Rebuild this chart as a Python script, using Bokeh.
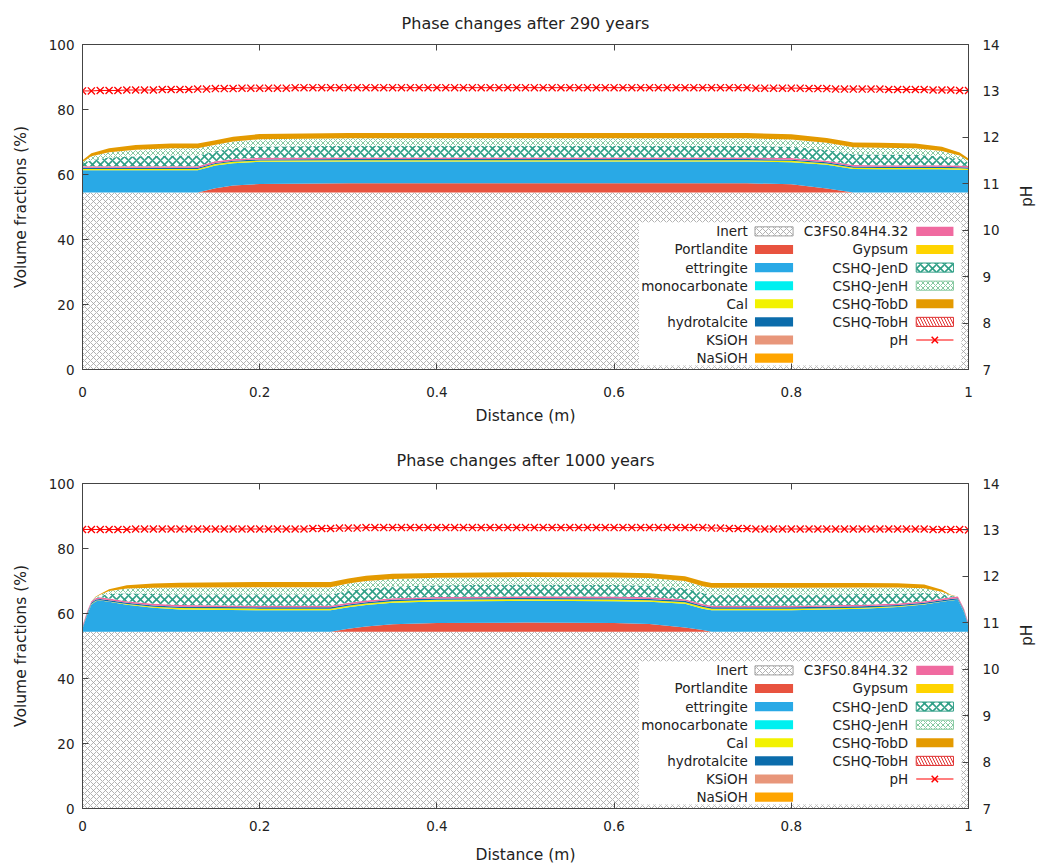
import math
from bokeh.plotting import figure
from bokeh.models import ColumnDataSource, Range1d, LinearAxis, FixedTicker, NumeralTickFormatter
from bokeh.layouts import column
from bokeh.transform import stack
from bokeh.embed import file_html
from bokeh.resources import INLINE
from bokeh.core.properties import value

FONT = "DejaVu Sans"
TXT = "#222222"

# ---------------- data ----------------
names = ["Inert", "Portlandite", "ettringite", "monocarbonate", "Cal", "hydrotalcite",
         "KSiOH", "NaSiOH", "C3FS0.84H4.32", "Gypsum", "CSHQ-JenD", "CSHQ-JenH",
         "CSHQ-TobD", "CSHQ-TobH"]

x_ticks = [0, 0.2, 0.4, 0.6, 0.8, 1.0]
y_ticks = [0, 20, 40, 60, 80, 100]
ph_ticks = [7, 8, 9, 10, 11, 12, 13, 14]

# --- 290 years ---
x_290 = [0.00, 0.01, 0.03, 0.06, 0.10, 0.13, 0.15, 0.17, 0.20, 0.30, 0.40, 0.50,
         0.60, 0.70, 0.75, 0.80, 0.84, 0.87, 0.90, 0.94, 0.97, 0.99, 1.00]
inert_290 = [54.5, 54.5, 54.5, 54.5, 54.5, 54.5, 54.5, 54.5, 54.5, 54.5, 54.5, 54.5,
             54.5, 54.5, 54.5, 54.5, 54.5, 54.5, 54.5, 54.5, 54.5, 54.5, 54.5]
portlandite_290 = [0, 0, 0, 0, 0, 0, 1.3, 2.1, 2.6, 2.8, 2.8, 2.8,
                   2.8, 2.8, 2.8, 2.5, 1.2, 0, 0, 0, 0, 0, 0]
ettringite_290 = [6.8, 6.8, 6.8, 6.8, 6.8, 6.8, 7.0, 6.9, 6.8, 6.7, 6.7, 6.7,
                  6.7, 6.7, 6.7, 6.8, 7.3, 7.2, 7.1, 7.1, 7.1, 7.0, 6.9]
monocarbonate_290 = [0, 0, 0, 0, 0, 0, 0, 0, 0, 0, 0, 0, 0, 0, 0, 0, 0, 0, 0, 0, 0, 0, 0]
cal_290 = [0.4, 0.4, 0.4, 0.4, 0.4, 0.4, 0.4, 0.4, 0.4, 0.4, 0.4, 0.4,
           0.4, 0.4, 0.4, 0.4, 0.4, 0.4, 0.4, 0.4, 0.4, 0.4, 0.4]
hydrotalcite_290 = [0.35, 0.35, 0.35, 0.35, 0.35, 0.35, 0.35, 0.35, 0.35, 0.35, 0.35, 0.35,
                    0.35, 0.35, 0.35, 0.35, 0.35, 0.35, 0.35, 0.35, 0.35, 0.35, 0.35]
ksioh_290 = [0, 0, 0, 0, 0, 0, 0, 0, 0, 0, 0, 0, 0, 0, 0, 0, 0, 0, 0, 0, 0, 0, 0]
nasioh_290 = [0, 0, 0, 0, 0, 0, 0, 0, 0, 0, 0, 0, 0, 0, 0, 0, 0, 0, 0, 0, 0, 0, 0]
c3fs_290 = [0.5, 0.5, 0.5, 0.5, 0.5, 0.5, 0.5, 0.5, 0.5, 0.5, 0.5, 0.5,
            0.5, 0.5, 0.5, 0.5, 0.5, 0.5, 0.5, 0.5, 0.5, 0.5, 0.5]
gypsum_290 = [0, 0, 0, 0, 0, 0, 0, 0, 0, 0, 0, 0, 0, 0, 0, 0, 0, 0, 0, 0, 0, 0, 0]
jend_290 = [0.8, 1.9, 2.7, 3.1, 3.3, 3.3, 3.1, 3.3, 3.5, 3.6, 3.6, 3.6,
            3.6, 3.6, 3.6, 3.5, 3.4, 3.3, 3.3, 3.2, 2.8, 2.0, 1.0]
jenh_290 = [0.5, 1.2, 1.6, 2.0, 2.2, 2.2, 2.0, 2.1, 2.2, 2.3, 2.3, 2.3,
            2.3, 2.3, 2.3, 2.2, 2.1, 2.1, 2.1, 2.0, 1.6, 1.1, 0.6]
tobd_290 = [0.5, 0.9, 1.2, 1.4, 1.5, 1.5, 1.4, 1.5, 1.6, 1.6, 1.6, 1.6,
            1.6, 1.6, 1.6, 1.6, 1.5, 1.5, 1.5, 1.5, 1.3, 0.9, 0.7]
tobh_290 = [0, 0, 0, 0, 0, 0, 0, 0, 0, 0, 0, 0, 0, 0, 0, 0, 0, 0, 0, 0, 0, 0, 0]

# --- 1000 years ---
x_1000 = [0.000, 0.005, 0.010, 0.015, 0.020, 0.030, 0.050, 0.080, 0.110, 0.200, 0.280,
          0.300, 0.320, 0.350, 0.400, 0.500, 0.600, 0.640, 0.680, 0.700, 0.710, 0.720,
          0.800, 0.880, 0.920, 0.950, 0.970, 0.980, 0.988, 0.995, 1.000]
inert_1000 = [54.4, 54.4, 54.4, 54.4, 54.4, 54.4, 54.4, 54.4, 54.4, 54.4, 54.4,
              54.4, 54.4, 54.4, 54.4, 54.4, 54.4, 54.4, 54.4, 54.4, 54.4, 54.4,
              54.4, 54.4, 54.4, 54.4, 54.4, 54.4, 54.4, 54.4, 54.4]
portlandite_1000 = [0, 0, 0, 0, 0, 0, 0, 0, 0, 0, 0,
                    0.9, 1.6, 2.3, 2.7, 2.8, 2.7, 2.4, 1.3, 0.5, 0, 0,
                    0, 0, 0, 0, 0, 0, 0, 0, 0]
ettringite_1000 = [0.8, 5.1, 8.4, 9.4, 9.6, 9.2, 8.3, 7.4, 6.8, 6.6, 6.6,
                   6.6, 6.6, 6.6, 6.6, 6.7, 6.7, 6.8, 7.3, 6.6, 6.6, 6.6,
                   6.6, 7.1, 7.6, 8.4, 9.2, 9.6, 9.8, 6.1, 1.6]
monocarbonate_1000 = [0, 0, 0, 0, 0, 0, 0, 0, 0, 0, 0, 0, 0, 0, 0, 0,
                      0, 0, 0, 0, 0, 0, 0, 0, 0, 0, 0, 0, 0, 0, 0]
cal_1000 = [0.1, 0.1, 0.1, 0.1, 0.1, 0.1, 0.2, 0.3, 0.5, 0.5, 0.5,
            0.5, 0.5, 0.5, 0.5, 0.5, 0.5, 0.5, 0.5, 0.5, 0.5, 0.5,
            0.5, 0.3, 0.2, 0.1, 0.1, 0.1, 0.1, 0.1, 0.1]
hydrotalcite_1000 = [0.4, 0.4, 0.4, 0.4, 0.4, 0.4, 0.4, 0.4, 0.4, 0.4, 0.4,
                     0.4, 0.4, 0.4, 0.4, 0.4, 0.4, 0.4, 0.4, 0.4, 0.4, 0.4,
                     0.4, 0.4, 0.4, 0.4, 0.4, 0.4, 0.4, 0.4, 0.4]
ksioh_1000 = [0, 0, 0, 0, 0, 0, 0, 0, 0, 0, 0, 0, 0, 0, 0, 0,
              0, 0, 0, 0, 0, 0, 0, 0, 0, 0, 0, 0, 0, 0, 0]
nasioh_1000 = [0, 0, 0, 0, 0, 0, 0, 0, 0, 0, 0, 0, 0, 0, 0, 0,
               0, 0, 0, 0, 0, 0, 0, 0, 0, 0, 0, 0, 0, 0, 0]
c3fs_1000 = [0.5, 0.5, 0.5, 0.5, 0.5, 0.5, 0.5, 0.5, 0.5, 0.5, 0.5,
             0.5, 0.5, 0.5, 0.5, 0.5, 0.5, 0.5, 0.5, 0.5, 0.5, 0.5,
             0.5, 0.5, 0.5, 0.5, 0.5, 0.5, 0.5, 0.5, 0.5]
gypsum_1000 = [0, 0, 0, 0, 0, 0, 0, 0, 0, 0, 0, 0, 0, 0, 0, 0,
               0, 0, 0, 0, 0, 0, 0, 0, 0, 0, 0, 0, 0, 0, 0]
jend_1000 = [0, 0, 0, 0.2, 0.5, 1.4, 2.4, 3.0, 3.3, 3.5, 3.5,
             3.6, 3.7, 3.6, 3.6, 3.6, 3.6, 3.6, 3.4, 3.4, 3.4, 3.4,
             3.4, 3.3, 3.0, 2.5, 1.3, 0.4, 0, 0, 0]
jenh_1000 = [0, 0, 0, 0.1, 0.3, 0.9, 1.5, 1.9, 2.1, 2.2, 2.2,
             2.3, 2.3, 2.3, 2.3, 2.3, 2.3, 2.3, 2.2, 2.1, 2.1, 2.1,
             2.1, 2.0, 1.9, 1.5, 0.8, 0.2, 0, 0, 0]
tobd_1000 = [0, 0, 0, 0.1, 0.2, 0.6, 1.0, 1.3, 1.5, 1.6, 1.6,
             1.6, 1.6, 1.6, 1.5, 1.5, 1.5, 1.5, 1.5, 1.5, 1.5, 1.5,
             1.5, 1.4, 1.3, 1.1, 0.6, 0.2, 0, 0, 0]
tobh_1000 = [0, 0, 0, 0, 0, 0, 0, 0, 0, 0, 0, 0, 0, 0, 0, 0,
             0, 0, 0, 0, 0, 0, 0, 0, 0, 0, 0, 0, 0, 0, 0]

# pH profiles (right axis)
ph_x = [0.00, 0.01, 0.02, 0.03, 0.04, 0.05, 0.06, 0.07, 0.08, 0.09,
        0.10, 0.11, 0.12, 0.13, 0.14, 0.15, 0.16, 0.17, 0.18, 0.19,
        0.20, 0.21, 0.22, 0.23, 0.24, 0.25, 0.26, 0.27, 0.28, 0.29,
        0.30, 0.31, 0.32, 0.33, 0.34, 0.35, 0.36, 0.37, 0.38, 0.39,
        0.40, 0.41, 0.42, 0.43, 0.44, 0.45, 0.46, 0.47, 0.48, 0.49,
        0.50, 0.51, 0.52, 0.53, 0.54, 0.55, 0.56, 0.57, 0.58, 0.59,
        0.60, 0.61, 0.62, 0.63, 0.64, 0.65, 0.66, 0.67, 0.68, 0.69,
        0.70, 0.71, 0.72, 0.73, 0.74, 0.75, 0.76, 0.77, 0.78, 0.79,
        0.80, 0.81, 0.82, 0.83, 0.84, 0.85, 0.86, 0.87, 0.88, 0.89,
        0.90, 0.91, 0.92, 0.93, 0.94, 0.95, 0.96, 0.97, 0.98, 0.99, 1.00]
ph_290 = [13.00, 13.00, 13.01, 13.01, 13.01, 13.02, 13.02, 13.02, 13.02, 13.03,
          13.03, 13.03, 13.03, 13.04, 13.04, 13.05, 13.05, 13.05, 13.06, 13.06,
          13.06, 13.06, 13.06, 13.06, 13.07, 13.07, 13.07, 13.07, 13.07, 13.07,
          13.07, 13.07, 13.07, 13.07, 13.07, 13.07, 13.07, 13.07, 13.07, 13.07,
          13.07, 13.07, 13.07, 13.07, 13.07, 13.07, 13.07, 13.07, 13.07, 13.07,
          13.07, 13.07, 13.07, 13.07, 13.07, 13.07, 13.07, 13.07, 13.07, 13.07,
          13.07, 13.07, 13.07, 13.07, 13.07, 13.07, 13.07, 13.07, 13.07, 13.07,
          13.07, 13.07, 13.07, 13.07, 13.07, 13.07, 13.06, 13.06, 13.06, 13.06,
          13.06, 13.06, 13.05, 13.05, 13.05, 13.04, 13.04, 13.04, 13.04, 13.04,
          13.04, 13.03, 13.03, 13.03, 13.03, 13.03, 13.02, 13.02, 13.02, 13.01, 13.01]
ph_1000 = [13.01, 13.01, 13.01, 13.01, 13.01, 13.01, 13.02, 13.02, 13.02, 13.02,
           13.02, 13.02, 13.02, 13.02, 13.02, 13.02, 13.02, 13.02, 13.02, 13.02,
           13.02, 13.02, 13.02, 13.02, 13.02, 13.02, 13.03, 13.03, 13.03, 13.04,
           13.04, 13.04, 13.05, 13.05, 13.05, 13.05, 13.05, 13.05, 13.05, 13.05,
           13.05, 13.05, 13.05, 13.05, 13.05, 13.05, 13.05, 13.05, 13.05, 13.05,
           13.05, 13.05, 13.05, 13.05, 13.05, 13.05, 13.05, 13.05, 13.05, 13.05,
           13.05, 13.05, 13.05, 13.05, 13.05, 13.05, 13.05, 13.05, 13.05, 13.05,
           13.05, 13.04, 13.04, 13.03, 13.03, 13.03, 13.02, 13.02, 13.02, 13.02,
           13.02, 13.02, 13.02, 13.02, 13.02, 13.02, 13.02, 13.02, 13.02, 13.02,
           13.02, 13.02, 13.02, 13.02, 13.02, 13.02, 13.01, 13.01, 13.01, 13.01, 13.00]

layers_290 = [inert_290, portlandite_290, ettringite_290, monocarbonate_290, cal_290,
              hydrotalcite_290, ksioh_290, nasioh_290, c3fs_290, gypsum_290,
              jend_290, jenh_290, tobd_290, tobh_290]
layers_1000 = [inert_1000, portlandite_1000, ettringite_1000, monocarbonate_1000, cal_1000,
               hydrotalcite_1000, ksioh_1000, nasioh_1000, c3fs_1000, gypsum_1000,
               jend_1000, jenh_1000, tobd_1000, tobh_1000]

# ---------------- styles ----------------
AREA = {
    "Inert": dict(fill_color="white", hatch_pattern="x", hatch_color="#a0a0a0",
                  hatch_scale=6, hatch_weight=0.8),
    "Portlandite": dict(fill_color="#e8533f"),
    "ettringite": dict(fill_color="#29a9e6"),
    "monocarbonate": dict(fill_color="#00f0f0"),
    "Cal": dict(fill_color="#f2f200"),
    "hydrotalcite": dict(fill_color="#0b6cab"),
    "KSiOH": dict(fill_color="#e8967a"),
    "NaSiOH": dict(fill_color="#ffa500"),
    "C3FS0.84H4.32": dict(fill_color="#f06aa0"),
    "Gypsum": dict(fill_color="#ffd400"),
    "CSHQ-JenD": dict(fill_color="white", hatch_pattern="x", hatch_color="#2f9f86",
                      hatch_scale=8, hatch_weight=1.6),
    "CSHQ-JenH": dict(fill_color="white", hatch_pattern="x", hatch_color="#86c9a0",
                      hatch_scale=5, hatch_weight=1.0),
    "CSHQ-TobD": dict(fill_color="#e49a00"),
    "CSHQ-TobH": dict(fill_color="white", hatch_pattern="\\", hatch_color="#e03030",
                      hatch_scale=6, hatch_weight=1.0),
}
BORDER = {"Inert": "#a0a0a0", "CSHQ-JenD": "#2f9f86", "CSHQ-JenH": "#86c9a0",
          "CSHQ-TobH": "#e03030"}
PH_COLOR = "#ff0000"

FRAME_W = 886
FRAME_H = 325

# legend layout (data units of the primary axes)
LEG_BOX = (0.628, 0.992, 1.2, 45.2)
LEG_TEXT_X = [0.751, 0.932]
LEG_SW = [(0.759, 0.802), (0.941, 0.983)]
LEG_ROW0 = 42.5
LEG_DY = 5.57


def build(title, xs, layers, ph_vals, top_b, bottom_b, xl_standoff, xal_standoff,
          title_standoff):
    data = {"x": xs}
    for n, v in zip(names, layers):
        data[n] = v
    src = ColumnDataSource(data)

    p = figure(frame_width=FRAME_W, frame_height=FRAME_H,
               x_range=Range1d(0, 1), y_range=Range1d(0, 100),
               output_backend="svg", toolbar_location=None,
               min_border_left=82, min_border_right=66,
               min_border_top=top_b, min_border_bottom=bottom_b,
               background_fill_color="white", border_fill_color="white")
    p.extra_y_ranges = {"ph": Range1d(7, 14)}
    p.grid.visible = False
    p.outline_line_color = "#444444"
    p.outline_line_width = 1

    # stacked areas
    for i, n in enumerate(names):
        y1 = stack(*names[:i]) if i else 0
        p.varea(x="x", y1=y1, y2=stack(*names[:i + 1]), source=src, **AREA[n])

    # legend (inside plot, bottom right)
    l, r, b, t = LEG_BOX
    p.quad(left=[l], right=[r], bottom=[b], top=[t], fill_color="white", line_color=None)
    cols = [names[:8], names[8:] + ["pH"]]
    for c, items in enumerate(cols):
        for k, n in enumerate(items):
            yc = LEG_ROW0 - k * LEG_DY
            p.text(x=[LEG_TEXT_X[c]], y=[yc], text=[n], text_align="right",
                   text_baseline="middle", text_font=value(FONT),
                   text_font_size="13.5px", text_color=TXT)
            sl, sr = LEG_SW[c]
            if n == "pH":
                p.segment(x0=[sl], y0=[yc], x1=[sr], y1=[yc], line_color=PH_COLOR, line_width=1.2)
                p.scatter(x=[(sl + sr) / 2], y=[yc], marker="x", size=9,
                          line_color=PH_COLOR, line_width=1.5)
            else:
                p.quad(left=[sl], right=[sr], bottom=[yc - 1.4], top=[yc + 1.4],
                       line_color=BORDER.get(n), line_width=1, **AREA[n])

    # pH
    p.line(ph_x, ph_vals, y_range_name="ph", line_color=PH_COLOR, line_width=1)
    p.scatter(ph_x, ph_vals, y_range_name="ph", marker="x", size=10,
              line_color=PH_COLOR, line_width=1.3)

    # axes
    for ax in [p.xaxis[0], p.yaxis[0]]:
        ax.major_tick_in = 6
        ax.major_tick_out = 0
        ax.minor_tick_line_color = None
        ax.axis_line_color = "#444444"
        ax.major_tick_line_color = "#444444"
        ax.major_label_text_font = FONT
        ax.major_label_text_font_size = "13.5px"
        ax.major_label_text_color = TXT
        ax.axis_label_text_font = FONT
        ax.axis_label_text_font_size = "15.5px"
        ax.axis_label_text_font_style = "normal"
        ax.axis_label_text_color = TXT

    p.xaxis.ticker = FixedTicker(ticks=x_ticks)
    p.xaxis.formatter = NumeralTickFormatter(format="0.[0]")
    p.xaxis.axis_label = "Distance (m)"
    p.xaxis.major_label_standoff = xl_standoff
    p.xaxis.axis_label_standoff = xal_standoff

    p.yaxis.ticker = FixedTicker(ticks=y_ticks)
    p.yaxis.axis_label = "Volume fractions (%)"
    p.yaxis.major_label_standoff = 8
    p.yaxis.axis_label_standoff = 16

    rax = LinearAxis(y_range_name="ph", ticker=FixedTicker(ticks=ph_ticks), axis_label="pH",
                     major_tick_in=6, major_tick_out=0, minor_tick_line_color=None,
                     axis_line_color="#444444", major_tick_line_color="#444444",
                     major_label_text_font=FONT, major_label_text_font_size="13.5px",
                     major_label_text_color=TXT, axis_label_text_font=FONT,
                     axis_label_text_font_size="15.5px", axis_label_text_font_style="normal",
                     axis_label_text_color=TXT, major_label_standoff=14,
                     axis_label_standoff=24)
    try:
        rax.axis_label_orientation = math.pi / 2
    except Exception:
        pass
    p.add_layout(rax, "right")

    # mirrored ticks on the top border
    tax = LinearAxis(ticker=FixedTicker(ticks=x_ticks), major_tick_in=6, major_tick_out=0,
                     minor_tick_line_color=None, axis_line_color=None,
                     major_tick_line_color="#444444", major_label_text_font_size="1px",
                     major_label_text_color=None, major_label_standoff=0)
    p.add_layout(tax, "above")

    p.title.text = title
    p.title.align = "center"
    p.title.text_font = FONT
    p.title.text_font_size = "16px"
    p.title.text_font_style = "normal"
    p.title.text_color = TXT
    try:
        p.title.standoff = title_standoff
    except Exception:
        pass
    return p


p1 = build("Phase changes after 290 years", x_290, layers_290, ph_290, 43, 56, 17, 7, 23)
p2 = build("Phase changes after 1000 years", x_1000, layers_1000, ph_1000, 56, 60, 12, 12, 28)

layout = column(p1, p2, spacing=0)
open("out.html", "w").write(file_html(layout, INLINE))
